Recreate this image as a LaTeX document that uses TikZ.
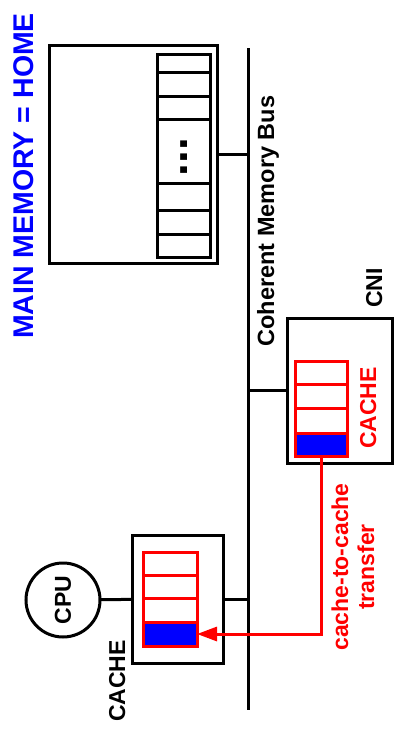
\documentclass[tikz,border=0pt]{standalone}
\usepackage{fontspec}
\setmainfont{Liberation Sans}
\usetikzlibrary{arrows.meta, positioning, shapes.geometric}

\tikzset{
    unit/.style={draw, line width=3pt, inner sep=0pt, outer sep=0pt},
    cachecol/.style={draw=red, line width=3pt, inner sep=0pt, outer sep=0pt},
    hitcell/.style={cachecol, fill=blue},
    vlabel/.style={rotate=90, anchor=base, inner sep=0pt, font=\bfseries\fontsize{23}{26}\selectfont},
    link/.style={line width=3pt},
    xfer/.style={draw=red, line width=3pt, -{Triangle[length=20pt,width=14pt]}},
}

\begin{document}
\begin{tikzpicture}[x=1pt, y=-1pt]
    \useasboundingbox (0,0) rectangle (394,745);

    % Title
    \node[vlabel, blue, font=\bfseries\fontsize{28.5}{30}\selectfont] (title) at (33,176) {MAIN MEMORY = HOME};

    % Bus
    \coordinate (busTop) at (248,48);
    \coordinate (busBot) at (248,710);
    \draw[link] (busTop) -- (busBot);
    \node[vlabel, font=\bfseries\fontsize{23.5}{26}\selectfont] (busName) at (274,221) {Coherent Memory Bus};

    % Main memory
    \node[unit, minimum width=168pt, minimum height=218pt] (mem) at (133,154) {};
    \node[unit, minimum width=53pt, minimum height=203pt] (memCol) at (183.5,155.5) {};
    \foreach \y in {72,96,119,183,210,234}
        \draw[link] (157,\y) -- (210,\y);
    \node[rotate=90, anchor=base, inner sep=0pt, font=\bfseries\fontsize{46}{46}\selectfont] (dots) at (187.5,157) {...};
    \draw[link] (mem.east) -- (mem.east -| busTop);

    % CNI with its cache
    \node[unit, minimum width=105pt, minimum height=145pt] (cni) at (339.5,390.5) {};
    \draw[link] (cni.west) -- (cni.west -| busTop);
    \node[vlabel] (cniName) at (382,288) {CNI};
    \node[cachecol, minimum width=52pt, minimum height=95pt] (cniCache) at (321,408.5) {};
    \node[hitcell, minimum width=52pt, minimum height=23pt] (cniHit) at (321,444.5) {};
    \foreach \y in {384,408}
        \draw[red, line width=3pt] (295,\y) -- (347,\y);
    \node[vlabel, red] (cniCacheName) at (376,408) {CACHE};

    % Processor side
    \node[unit, minimum width=91pt, minimum height=128pt] (pCache) at (177.5,599) {};
    \draw[link] (pCache.east) -- (pCache.east -| busTop);
    \node[cachecol, minimum width=54pt, minimum height=94pt] (cpuCache) at (170,599) {};
    \node[hitcell, minimum width=54pt, minimum height=24pt] (cpuHit) at (170,634) {};
    \foreach \y in {575,598}
        \draw[red, line width=3pt] (143,\y) -- (197,\y);
    \node[unit, circle, minimum size=74pt, rotate=90, font=\bfseries\fontsize{23}{26}\selectfont] (cpu) at (63,600) {CPU};
    \draw[link] (cpu) -- (pCache);
    \node[vlabel] (pCacheName) at (125,681) {CACHE};

    % Transfer
    \draw[xfer] (cniHit.south) |- (cpuHit.east);
    \node[rotate=90, red, align=center, inner sep=0pt, font=\bfseries\fontsize{23}{26}\selectfont] (xferName) at (353,567) {cache-to-cache\\transfer};
\end{tikzpicture}
\end{document}
